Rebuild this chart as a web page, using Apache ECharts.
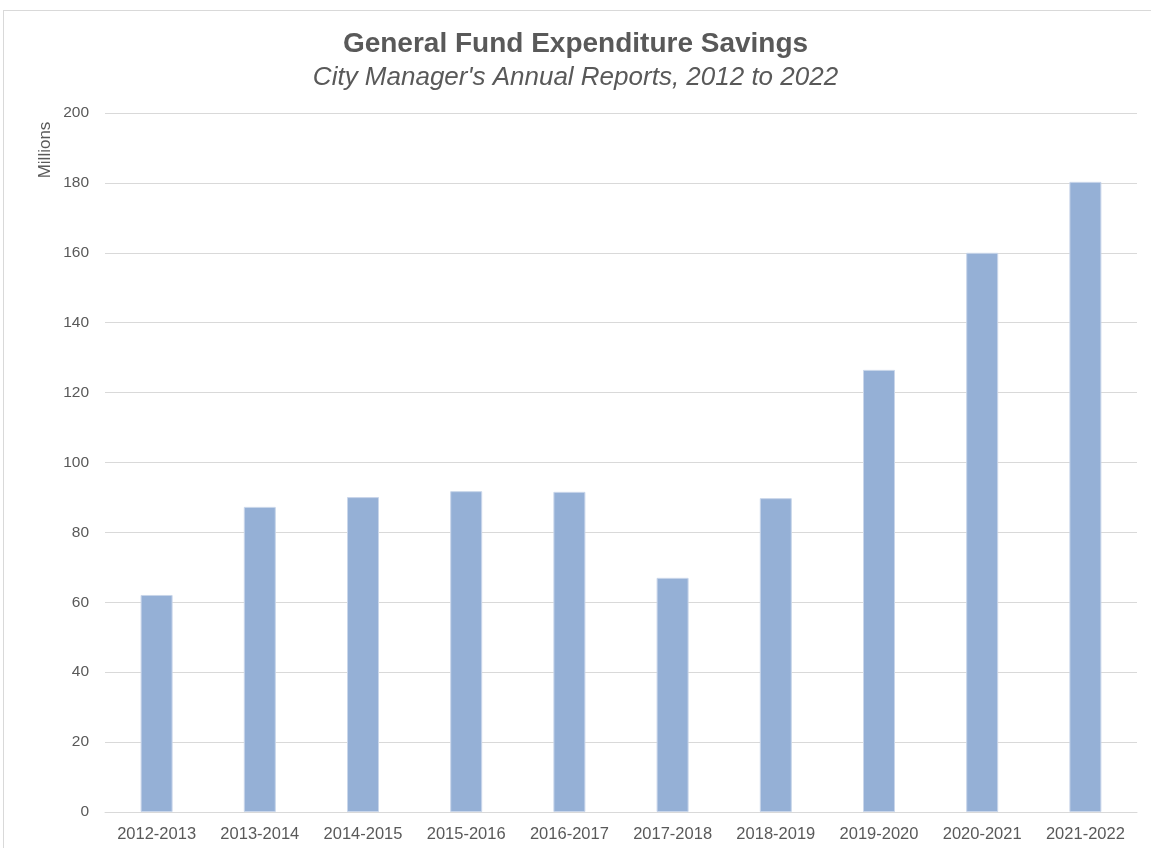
<!DOCTYPE html>
<html>
<head>
<meta charset="utf-8">
<script src="https://cdn.jsdelivr.net/npm/echarts@6/dist/echarts.min.js"></script>
<style>
html,body{margin:0;padding:0;background:#fff;}
#frame{position:absolute;left:3px;top:10px;width:1160px;height:850px;border:1px solid #d9d9d9;box-sizing:border-box;}
#chart{position:absolute;left:0;top:0;width:1151px;height:848px;}
</style>
</head>
<body>
<div id="frame"></div>
<div id="chart"></div>
<script>
const categories = ['2012-2013','2013-2014','2014-2015','2015-2016','2016-2017','2017-2018','2018-2019','2019-2020','2020-2021','2021-2022'];
const savings = [62.1, 87.3, 90.1, 91.8, 91.6, 67.0, 89.8, 126.5, 160.0, 180.3];
const yTicks = {min: 0, max: 200, interval: 20};
const yAxisTitle = 'Millions';

const chart = echarts.init(document.getElementById('chart'));
chart.setOption({
  animation: false,
  backgroundColor: 'transparent',
  title: {
    text: 'General Fund Expenditure Savings',
    subtext: "City Manager's Annual Reports, 2012 to 2022",
    left: 'center',
    top: 25,
    itemGap: 7,
    textStyle: {fontFamily: 'Liberation Sans', fontWeight: 'bold', fontSize: 28, color: '#595959'},
    subtextStyle: {fontFamily: 'Liberation Sans', fontStyle: 'italic', fontSize: 26, color: '#595959'}
  },
  graphic: [{
    type: 'text',
    x: 45, y: 150,
    rotation: Math.PI / 2,
    style: {text: yAxisTitle, fill: '#595959', fontFamily: 'Liberation Sans', fontSize: 17, align: 'center', verticalAlign: 'middle'}
  }],
  grid: {left: 105, right: 14, top: 113, bottom: 36, containLabel: false},
  xAxis: {
    type: 'category',
    data: categories,
    axisLine: {show: true, lineStyle: {color: '#d9d9d9', width: 1}},
    axisTick: {show: false},
    axisLabel: {color: '#595959', fontFamily: 'Liberation Sans', fontSize: 16.5, margin: 14}
  },
  yAxis: {
    type: 'value',
    min: yTicks.min, max: yTicks.max, interval: yTicks.interval,
    axisLine: {show: false},
    axisTick: {show: false},
    axisLabel: {color: '#595959', fontFamily: 'Liberation Sans', fontSize: 15.5, margin: 16},
    splitLine: {lineStyle: {color: '#d9d9d9', width: 1}}
  },
  series: [{
    type: 'bar',
    data: savings,
    barWidth: '31%',
    itemStyle: {color: '#95b0d6', borderColor: '#c9d6ea', borderWidth: 1}
  }]
});
</script>
</body>
</html>
